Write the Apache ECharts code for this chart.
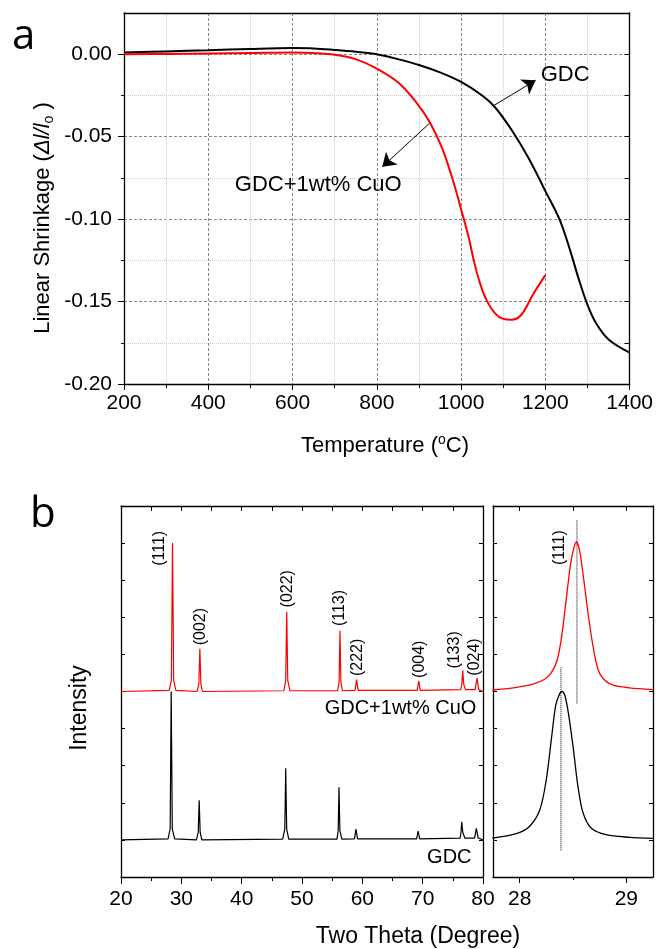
<!DOCTYPE html>
<html><head><meta charset="utf-8">
<script src="https://cdn.jsdelivr.net/npm/echarts@6/dist/echarts.min.js"></script>
<style>html,body{margin:0;padding:0;background:#fff}#c{width:656px;height:949px}</style>
</head><body><div id="c"></div>
<script>
// ---- Panel a: dilatometry ----
const tempTicks = [200, 400, 600, 800, 1000, 1200, 1400];
const shrinkTicks = [-0.20, -0.15, -0.10, -0.05, 0.00];
const shrinkMinor = [-0.175, -0.125, -0.075, -0.025];
const gdcTemp   = [200, 300, 400, 500, 600, 650, 700, 750, 800, 850, 900, 950, 1000, 1050, 1080, 1120, 1160, 1200, 1235, 1260, 1280, 1300, 1320, 1350, 1400];
const gdcShrink = [0.001, 0.0017, 0.0024, 0.0032, 0.0037, 0.0035, 0.0026, 0.0015, 0.0, -0.003, -0.0065, -0.011, -0.0168, -0.025, -0.032, -0.046, -0.063, -0.083, -0.101, -0.120, -0.137, -0.152, -0.163, -0.173, -0.181];
const cuoTemp   = [200, 300, 400, 500, 600, 650, 700, 750, 800, 850, 890, 925, 955, 980, 1000, 1017, 1032, 1045, 1060, 1080, 1100, 1120, 1143, 1170, 1200];
const cuoShrink = [0.0, 0.0002, 0.0004, 0.0007, 0.001, 0.0007, -0.0003, -0.003, -0.0087, -0.017, -0.028, -0.041, -0.057, -0.076, -0.094, -0.110, -0.127, -0.139, -0.149, -0.157, -0.1605, -0.161, -0.158, -0.146, -0.134];
const arrowGDC = [[1079, -0.0309], [1177, -0.0158]];
const arrowCuO = [[928, -0.0412], [813, -0.0683]];
const labelGDC = [1189, -0.0127];
const labelCuO = [661, -0.0794];

// ---- Panel b: XRD ----
const xrdTicks = [20, 30, 40, 50, 60, 70, 80];
const zoomTicks = [28, 29];
const zoomMinor = [28.5];
const xrdCuO = [[20,5.0],[28.0,5.03],[28.35,5.3],[28.54,9.0],[28.73,5.3],[29.1,5.03],[32.6,5.0],[32.9,5.2],[33.07,6.15],[33.24,5.2],[33.5,5.0],[47.0,5.02],[47.3,5.3],[47.47,7.15],[47.64,5.3],[48.0,5.02],[55.9,5.02],[56.15,5.25],[56.29,6.64],[56.45,5.25],[56.7,5.02],[58.8,5.03],[59.05,5.32],[59.3,5.03],[69.1,5.03],[69.36,5.29],[69.6,5.03],[76.3,5.05],[76.5,5.2],[76.64,5.57],[76.8,5.2],[77.1,5.05],[78.7,5.05],[79.01,5.36],[79.3,5.05],[80,5.0]];
const xrdGDC = [[20,1.0],[27.8,1.03],[28.15,1.3],[28.32,5.0],[28.5,1.3],[28.9,1.03],[32.5,1.0],[32.8,1.2],[32.96,2.07],[33.12,1.2],[33.4,1.0],[46.8,1.02],[47.15,1.3],[47.3,2.93],[47.46,1.3],[47.8,1.02],[55.8,1.02],[56.0,1.25],[56.13,2.42],[56.28,1.25],[56.6,1.02],[58.7,1.03],[58.94,1.29],[59.2,1.03],[69.0,1.03],[69.25,1.24],[69.5,1.03],[76.2,1.05],[76.35,1.2],[76.48,1.49],[76.65,1.2],[77.0,1.05],[78.6,1.05],[78.9,1.31],[79.2,1.05],[80,1.0]];
const zoomCuO = [[27.744,5.04],[27.94,5.1],[28.125,5.2],[28.234,5.33],[28.297,5.51],[28.35,5.83],[28.39,6.41],[28.437,7.49],[28.475,8.39],[28.506,8.85],[28.53,9.03],[28.562,8.8],[28.6,8.04],[28.64,7.13],[28.687,6.23],[28.734,5.6],[28.787,5.33],[28.875,5.17],[29.03,5.1],[29.25,5.05]];
const zoomGDC = [[27.744,1.05],[27.97,1.17],[28.094,1.37],[28.19,1.82],[28.25,2.63],[28.297,3.71],[28.337,4.61],[28.369,4.9],[28.397,5.0],[28.425,4.88],[28.456,4.43],[28.5,3.53],[28.546,2.45],[28.594,1.73],[28.67,1.32],[28.81,1.14],[29.03,1.07],[29.25,1.04]];
const peakLineCuO = [[28.537, 4.68], [28.537, 9.64]];
const peakLineGDC = [[28.387, 0.72], [28.387, 5.65]];
const hklNames = ['(111)','(002)','(022)','(113)','(222)','(004)','(133)','(024)'];
const hklPos = [[26.39,8.86],[33.12,6.75],[47.64,7.77],[56.29,7.25],[59.22,5.92],[69.41,5.87],[75.32,6.12],[78.63,5.93]];
const zoomHkl = {name: '(111)', pos: [28.375, 8.88]};
const traceLabels = [{name: 'GDC+1wt% CuO', pos: [78.9, 4.53]}, {name: 'GDC', pos: [78.1, 0.53]}];

const FONT = '"Liberation Sans", Arial, sans-serif';
const chart = echarts.init(document.getElementById('c'), null, {renderer: 'canvas'});

const axLine = {show: true, onZero: false, lineStyle: {color: '#000', width: 1.3}};
const noLine = {show: false, onZero: false};
function pairs(xs, ys) { return xs.map((x, i) => [x, ys[i]]); }
const plain = v => String(Math.round(v * 1000) / 1000);
const solid = {opacity: 1};

const option = {
  animation: false,
  backgroundColor: '#fff',
  grid: [
    {left: 124, top: 13, width: 506, height: 371},
    {left: 121, top: 506, width: 362, height: 371},
    {left: 493, top: 506, width: 160, height: 371}
  ],
  xAxis: [
    {gridIndex: 0, type: 'value', min: 200, max: 1400, interval: 200, position: 'bottom',
     axisLine: axLine, axisTick: {show: true, length: 6, lineStyle: {color: '#000'}},
     minorTick: {show: true, splitNumber: 2, length: 4, lineStyle: {color: '#000'}},
     axisLabel: {fontSize: 21, color: '#000', fontFamily: FONT, margin: 9, formatter: plain},
     splitLine: {show: true, lineStyle: {color: '#888', type: [3, 2], width: 1}},
     minorSplitLine: {show: true, lineStyle: {color: '#ccc', type: [1, 1], width: 1}}},
    {gridIndex: 0, type: 'value', min: 200, max: 1400, interval: 200, position: 'top',
     axisLine: axLine, axisTick: {show: false}, axisLabel: {show: false}, splitLine: {show: false}},
    {gridIndex: 1, type: 'value', min: 20, max: 80, interval: 10, position: 'bottom',
     axisLine: axLine, axisTick: {show: true, length: 7, lineStyle: {color: '#000'}},
     minorTick: {show: true, splitNumber: 2, length: 4, lineStyle: {color: '#000'}},
     axisLabel: {fontSize: 21, color: '#000', fontFamily: FONT, margin: 12, formatter: plain}, splitLine: {show: false}},
    {gridIndex: 1, type: 'value', min: 20, max: 80, interval: 10, position: 'top',
     axisLine: axLine, axisTick: {show: true, inside: true, length: 5, lineStyle: {color: '#000'}},
     minorTick: {show: true, splitNumber: 2, length: 5, lineStyle: {color: '#000'}},
     axisLabel: {show: false}, splitLine: {show: false}},
    {gridIndex: 2, type: 'value', min: 27.75, max: 29.25, position: 'bottom',
     axisLine: axLine, axisTick: {show: true, length: 6, customValues: zoomTicks, lineStyle: {color: '#000'}},
     axisLabel: {fontSize: 21, color: '#000', fontFamily: FONT, margin: 12, customValues: zoomTicks, formatter: plain}, splitLine: {show: false}},
    {gridIndex: 2, type: 'value', min: 27.75, max: 29.25, position: 'bottom',
     axisLine: noLine, axisTick: {show: true, length: 3, customValues: zoomMinor, lineStyle: {color: '#000'}},
     axisLabel: {show: false}, splitLine: {show: false}},
    {gridIndex: 2, type: 'value', min: 27.75, max: 29.25, position: 'top',
     axisLine: axLine, axisTick: {show: true, inside: true, length: 5, customValues: [28, 28.5, 29], lineStyle: {color: '#000'}},
     axisLabel: {show: false}, splitLine: {show: false}}
  ],
  yAxis: [
    {gridIndex: 0, type: 'value', min: -0.2, max: 0.025, position: 'left',
     axisLine: axLine, axisTick: {show: true, length: 6, customValues: shrinkTicks, lineStyle: {color: '#000'}},
     axisLabel: {fontSize: 21, color: '#000', fontFamily: FONT, margin: 12, customValues: shrinkTicks, formatter: v => v.toFixed(2)},
     splitLine: {show: true, lineStyle: {color: '#888', type: [3, 2], width: 1}}},
    {gridIndex: 0, type: 'value', min: -0.2, max: 0.025, position: 'left',
     axisLine: noLine, axisTick: {show: true, length: 3, customValues: shrinkMinor, lineStyle: {color: '#000'}},
     axisLabel: {show: false},
     splitLine: {show: true, lineStyle: {color: '#ccc', type: [1, 1], width: 1}}},
    {gridIndex: 0, type: 'value', min: -0.2, max: 0.025, interval: 0.025, position: 'right',
     axisLine: axLine, axisTick: {show: true, inside: true, length: 5, lineStyle: {color: '#000'}},
     axisLabel: {show: false}, splitLine: {show: false}},
    {gridIndex: 1, type: 'value', min: 0, max: 10, interval: 1, position: 'left',
     axisLine: axLine, axisTick: {show: true, inside: true, length: 4, lineStyle: {color: '#000'}},
     axisLabel: {show: false}, splitLine: {show: false}},
    {gridIndex: 1, type: 'value', min: 0, max: 10, interval: 1, position: 'right',
     axisLine: axLine, axisTick: {show: true, inside: true, length: 4, lineStyle: {color: '#000'}},
     axisLabel: {show: false}, splitLine: {show: false}},
    {gridIndex: 2, type: 'value', min: 0, max: 10, interval: 1, position: 'left',
     axisLine: axLine, axisTick: {show: true, inside: true, length: 4, lineStyle: {color: '#000'}},
     axisLabel: {show: false}, splitLine: {show: false}},
    {gridIndex: 2, type: 'value', min: 0, max: 10, interval: 1, position: 'right',
     axisLine: axLine, axisTick: {show: true, inside: true, length: 4, lineStyle: {color: '#000'}},
     axisLabel: {show: false}, splitLine: {show: false}}
  ],
  series: [
    {type: 'line', name: 'GDC', xAxisIndex: 0, yAxisIndex: 0, data: pairs(gdcTemp, gdcShrink),
     smooth: 0.35, showSymbol: false, lineStyle: {color: '#000', width: 2}, z: 5,
     markLine: {silent: true, symbol: ['none', 'arrow'], symbolSize: 13, label: {show: false},
       lineStyle: {color: '#000', width: 1, type: 'solid'},
       data: [[{coord: arrowGDC[0]}, {coord: arrowGDC[1]}], [{coord: arrowCuO[0]}, {coord: arrowCuO[1]}]]}},
    {type: 'line', name: 'GDC+1wt% CuO', xAxisIndex: 0, yAxisIndex: 0, data: pairs(cuoTemp, cuoShrink),
     smooth: 0.35, showSymbol: false, lineStyle: {color: '#ff0000', width: 2}, z: 5},
    {type: 'scatter', xAxisIndex: 0, yAxisIndex: 0, symbolSize: 0, silent: true, itemStyle: solid,
     data: [{value: labelGDC, name: 'GDC', label: {align: 'left'}}, {value: labelCuO, name: 'GDC+1wt% CuO', label: {align: 'center'}}],
     label: {show: true, position: 'inside', formatter: p => p.name, fontSize: 22, color: '#000', opacity: 1, fontFamily: FONT}},
    {type: 'line', xAxisIndex: 2, yAxisIndex: 3, data: xrdCuO, showSymbol: false, lineStyle: {color: '#ff0000', width: 1.2}},
    {type: 'line', xAxisIndex: 2, yAxisIndex: 3, data: xrdGDC, showSymbol: false, lineStyle: {color: '#000', width: 1.2}},
    {type: 'scatter', xAxisIndex: 2, yAxisIndex: 3, symbolSize: 0, silent: true, itemStyle: solid,
     data: hklNames.map((n, i) => ({value: hklPos[i], name: n})),
     label: {show: true, position: 'inside', rotate: 90, formatter: p => p.name, fontSize: 16, color: '#000', opacity: 1, fontFamily: FONT}},
    {type: 'scatter', xAxisIndex: 2, yAxisIndex: 3, symbolSize: 0, silent: true, itemStyle: solid,
     data: traceLabels.map(t => ({value: t.pos, name: t.name})),
     label: {show: true, position: 'inside', align: 'right', formatter: p => p.name, fontSize: 20, color: '#000', opacity: 1, fontFamily: FONT}},
    {type: 'line', xAxisIndex: 4, yAxisIndex: 5, data: zoomCuO, smooth: 0.3, showSymbol: false, lineStyle: {color: '#ff0000', width: 1.3}},
    {type: 'line', xAxisIndex: 4, yAxisIndex: 5, data: zoomGDC, smooth: 0.3, showSymbol: false, lineStyle: {color: '#000', width: 1.3}},
    {type: 'line', xAxisIndex: 4, yAxisIndex: 5, data: peakLineCuO, showSymbol: false, lineStyle: {color: '#000', width: 1, type: [1, 1]}},
    {type: 'line', xAxisIndex: 4, yAxisIndex: 5, data: peakLineGDC, showSymbol: false, lineStyle: {color: '#000', width: 1, type: [1, 1]}},
    {type: 'scatter', xAxisIndex: 4, yAxisIndex: 5, symbolSize: 0, silent: true, itemStyle: solid,
     data: [{value: zoomHkl.pos, name: zoomHkl.name}],
     label: {show: true, position: 'inside', rotate: 90, formatter: p => p.name, fontSize: 16, color: '#000', opacity: 1, fontFamily: FONT}}
  ],
  graphic: [
    {type: 'text', left: 12, top: 16, style: {text: 'a', font: '42px "Open Sans", sans-serif', fill: '#000'}},
    {type: 'text', left: 30, top: 494, style: {text: 'b', font: '42px "Open Sans", sans-serif', fill: '#000'}},
    {type: 'text', x: 385, y: 446, style: {text: '{n|Temperature (}{s|o}{n|C)}', align: 'center', verticalAlign: 'middle',
      rich: {n: {fontSize: 22, fontFamily: FONT, fill: '#000', lineHeight: 26}, s: {fontSize: 14, fontFamily: FONT, fill: '#000', verticalAlign: 'top', lineHeight: 14}}}},
    {type: 'text', x: 43, y: 218, rotation: Math.PI / 2, style: {text: '{n|Linear Shrinkage (}{i|\u0394l/l}{sub|o}{n| )}', align: 'center', verticalAlign: 'middle',
      rich: {n: {fontSize: 22, fontFamily: FONT, fill: '#000', lineHeight: 26}, i: {fontSize: 22, fontStyle: 'italic', fontFamily: FONT, fill: '#000', lineHeight: 26},
             sub: {fontSize: 14, fontFamily: FONT, fill: '#000', verticalAlign: 'bottom', lineHeight: 14}}}},
    {type: 'text', x: 80, y: 708, rotation: Math.PI / 2, style: {text: 'Intensity', align: 'center', verticalAlign: 'middle', font: '23px ' + FONT, fill: '#000'}},
    {type: 'text', x: 418, y: 937, style: {text: 'Two Theta (Degree)', align: 'center', verticalAlign: 'middle', font: '23px ' + FONT, fill: '#000'}}
  ]
};
chart.setOption(option);
</script></body></html>
